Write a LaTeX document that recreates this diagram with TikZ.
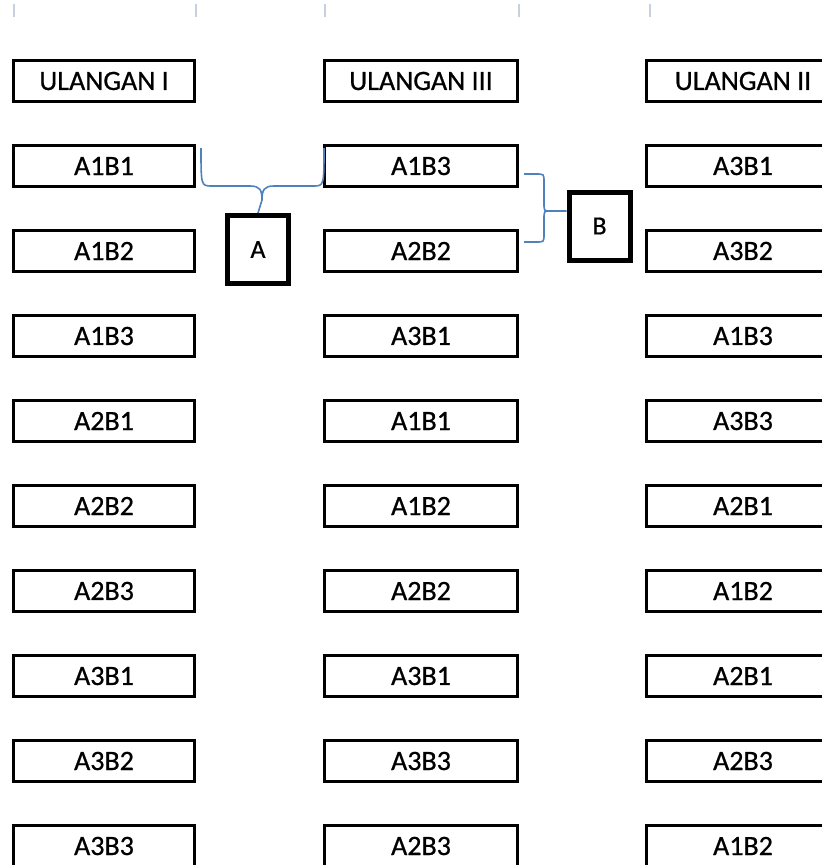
\documentclass[tikz,border=0pt]{standalone}
\usepackage{fontspec}
\setmainfont{Carlito}
\newfontfamily\cellfont{Carlito}[FakeBold=0.7]
\definecolor{tickgray}{HTML}{C8D0E0}
\definecolor{braceblue}{HTML}{4F81BD}
% labels sit a little below the box centre
\newcommand{\lbl}[1]{\raisebox{-2pt}{#1}}
\tikzset{
  cell/.style={draw, line width=3pt, inner sep=0pt, minimum height=41pt,
    font=\fontsize{28}{32}\cellfont\addfontfeature{FakeBold=0.7}},
  lcell/.style={cell, minimum width=181pt},
  mcell/.style={cell, minimum width=193pt},
  rcell/.style={cell, minimum width=193pt},
  factor/.style={draw, line width=5pt, inner sep=0pt, minimum width=61pt, minimum height=68pt,
    font=\fontsize{26}{30}\cellfont\addfontfeature{FakeBold=0.7}},
  brace/.style={draw=braceblue, line width=1.6pt},
  tick/.style={draw=tickgray, line width=2pt}
}
\begin{document}
\begin{tikzpicture}[x=1pt,y=-1pt]
\useasboundingbox (0,0) rectangle (822,865);
% column rulers along the top
\foreach \tx in {14,196,325,519,650}
  \draw[tick] (\tx,4) -- (\tx,17);
% first column
\foreach \lab [count=\i from 0] in {ULANGAN I,A1B1,A1B2,A1B3,A2B1,A2B2,A2B3,A3B1,A3B2,A3B3}
  \node[lcell] (l\i) at (104,{81+85*\i}) {\lbl{\lab}};
% second column
\foreach \lab [count=\i from 0] in {ULANGAN III,A1B3,A2B2,A3B1,A1B1,A1B2,A2B2,A3B1,A3B3,A2B3}
  \node[mcell] (m\i) at (421,{81+85*\i}) {\lbl{\lab}};
% third column
\foreach \lab [count=\i from 0] in {ULANGAN II,A3B1,A3B2,A1B3,A3B3,A2B1,A1B2,A2B1,A2B3,A1B2}
  \node[rcell] (r\i) at (743,{81+85*\i}) {\lbl{\lab}};
% factor boxes
\node[factor] (a) at (258,249.5) {A};
\node[factor] (b) at (599.5,226) {B};
% brace grouping for factor A
\coordinate (aL) at (201,148);
\coordinate (aR) at (324,148);
\draw[brace] (aL) .. controls (201,186) .. (212,186) -- (250,186)
  .. controls (260,186) and (262,190) .. (262,200) -- (a.north);
\draw[brace] (aR) .. controls (324,186) .. (313,186) -- (274,186)
  .. controls (264,186) and (262,190) .. (262,200);
% brace grouping for factor B
\coordinate (bT) at (524,174);
\coordinate (bB) at (524,242);
\draw[brace] (bT) -- (536,174) .. controls (544,174) .. (544,182) -- (544,203)
  .. controls (544,211) .. (550,211) -- ([yshift=15pt]b.west);
\draw[brace] (bB) -- (536,242) .. controls (544,242) .. (544,234) -- (544,219)
  .. controls (544,211) .. (550,211);
\end{tikzpicture}
\end{document}
